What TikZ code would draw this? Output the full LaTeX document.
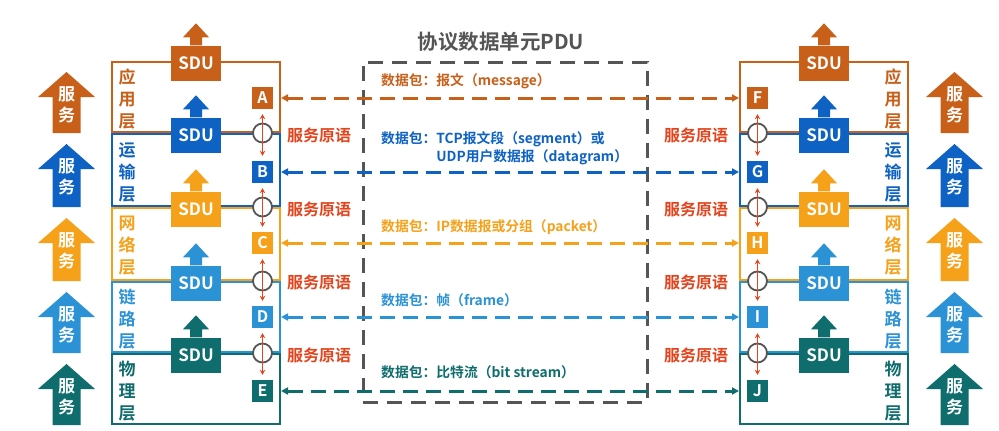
\documentclass[tikz,border=0pt]{standalone}
\usepackage{fontspec}
\setmainfont{Noto Sans CJK SC}[UprightFont=* Bold]
\usetikzlibrary{arrows.meta}
\definecolor{capp}{HTML}{C8601A}
\definecolor{ctra}{HTML}{0D62C4}
\definecolor{cnet}{HTML}{F6A11A}
\definecolor{clnk}{HTML}{2B92D6}
\definecolor{cphy}{HTML}{0F6D6D}
\definecolor{cred}{HTML}{E2441D}
\definecolor{cgry}{HTML}{555555}
\newcommand\myfs[1]{\fontsize{#1}{#1}\selectfont}
\begin{document}
\begin{tikzpicture}[x=1pt,y=-1pt,
 laybox/.style={draw=#1,line width=2pt,minimum width=168pt,inner sep=0pt},
 sdubox/.style={fill=#1,text=white,minimum width=50pt,minimum height=35pt,inner sep=0pt,font=\myfs{17}},
 sapbox/.style={fill=#1,text=white,minimum width=21pt,minimum height=22pt,inner sep=0pt,font=\myfs{16}},
 laylabel/.style={text=#1,align=center,font=\fontsize{17}{22}\selectfont,inner sep=0pt},
 svclabel/.style={text=white,align=center,font=\fontsize{17}{21}\selectfont,inner sep=0pt},
 prim/.style={text=cred,font=\myfs{16},inner sep=0pt},
 pkt/.style={text=#1,font=\fontsize{13.8}{18}\selectfont,anchor=west,inner sep=0pt,align=left},
 pduline/.style={draw=#1,line width=3pt,dash pattern=on 15pt off 8pt,{Triangle[length=7pt,width=7pt]}-{Triangle[length=7pt,width=7pt]}},
 sapring/.style={circle,draw=cgry,line width=1.8pt,fill=white,minimum size=19pt,inner sep=0pt},
 primarrow/.style={draw=cred,line width=1.6pt,{Stealth[length=5pt,width=5.5pt]}-{Stealth[length=5pt,width=5.5pt]},shorten <=5pt,shorten >=5pt},
]
\fill[white] (0,0) rectangle (999,431);
\useasboundingbox (0,0) rectangle (999,431);

% title and PDU box
\node[font=\myfs{20.5},text=cgry,inner sep=0pt] (TT) at (501,42) {协议数据单元PDU};
\node[draw=cgry,line width=3pt,dash pattern=on 15pt off 9pt,minimum width=284pt,minimum height=340pt,inner sep=0pt] (PDU) at (505,232) {};

\foreach \i/\t/\b/\c/\lt/\rt/\ly/\txt in {
  1/62/132/capp/A/F/98/{应\\用\\层},
  2/134/206/ctra/B/G/172/{运\\输\\层},
  3/208/280/cnet/C/H/243/{网\\络\\层},
  4/282/352/clnk/D/I/317/{链\\路\\层},
  5/354/424/cphy/E/J/391/{物\\理\\层}} {
  % layer boxes
  \node[laybox=\c,minimum height=\b-\t] (L\i) at (196,{(\t+\b)/2}) {};
  \node[laybox=\c,minimum height=\b-\t] (R\i) at (824,{(\t+\b)/2}) {};
  % SDU blocks
  \node[sdubox=\c] (SDL\i) at (196,{\t+1}) {SDU};
  \node[sdubox=\c] (SDR\i) at (824,{\t+1}) {SDU};
  \fill[\c] ([xshift=-6pt]SDL\i.north) -- ++(0,-8) -- ++(-7,0) -- ++(13,-14) -- ++(13,14) -- ++(-7,0) -- ++(0,8) -- cycle;
  \fill[\c] ([xshift=-6pt]SDR\i.north) -- ++(0,-8) -- ++(-7,0) -- ++(13,-14) -- ++(13,14) -- ++(-7,0) -- ++(0,8) -- cycle;
  % service arrows
  \fill[\c] (52.5,{\b+1}) -- (52.5,{\t+35}) -- (38,{\t+35}) -- (66.5,{\t+10}) -- (95,{\t+35}) -- (80.5,{\t+35}) -- (80.5,{\b+1}) -- cycle;
  \node[svclabel] (SVL\i) at (66.5,{\t+43}) {服\\务};
  \fill[\c] (940.5,{\b+1}) -- (940.5,{\t+35}) -- (926,{\t+35}) -- (954.5,{\t+10}) -- (983,{\t+35}) -- (968.5,{\t+35}) -- (968.5,{\b+1}) -- cycle;
  \node[svclabel] (SVR\i) at (954.5,{\t+43}) {服\\务};
  % layer labels
  \node[laylabel=\c] (LL\i) at (127,{(\t+\b)/2+2}) {\txt};
  \node[laylabel=\c] (LR\i) at (893,{(\t+\b)/2+2}) {\txt};
  % SAP letters
  \node[sapbox=\c] (SAL\i) at (262.5,\ly) {\lt};
  \node[sapbox=\c] (SAR\i) at (757.5,\ly) {\rt};
  % peer dashed arrow
  \draw[pduline=\c] (L\i.east |- SAL\i) -- (R\i.west |- SAR\i);
}

% service primitives between layers
\foreach \i/\j/\y/\py in {1/2/133/135, 2/3/207/209, 3/4/281/282, 4/5/353/355} {
  \node[sapring] (CL\i) at (262.5,\y) {};
  \node[sapring] (CR\i) at (757.5,\y) {};
  \draw[primarrow] (SAL\i.south) -- (SAL\j.north);
  \draw[primarrow] (SAR\i.south) -- (SAR\j.north);
  \node[prim] (PL\i) at (319,\py) {服务原语};
  \node[prim] (PR\i) at (696,\py) {服务原语};
}

% packet labels
\node[pkt=capp] (P1) at (381,81) {数据包：报文（message）};
\node[pkt=ctra] (P2) at (381,148) {数据包：TCP报文段（segment）或\\\hspace*{4em}UDP用户数据报（datagram）};
\node[pkt=cnet] (P3) at (381,227) {数据包：IP数据报或分组（packet）};
\node[pkt=clnk] (P4) at (381,300) {数据包：帧（frame）};
\node[pkt=cphy] (P5) at (381,372) {数据包：比特流（bit stream）};
\end{tikzpicture}
\end{document}
